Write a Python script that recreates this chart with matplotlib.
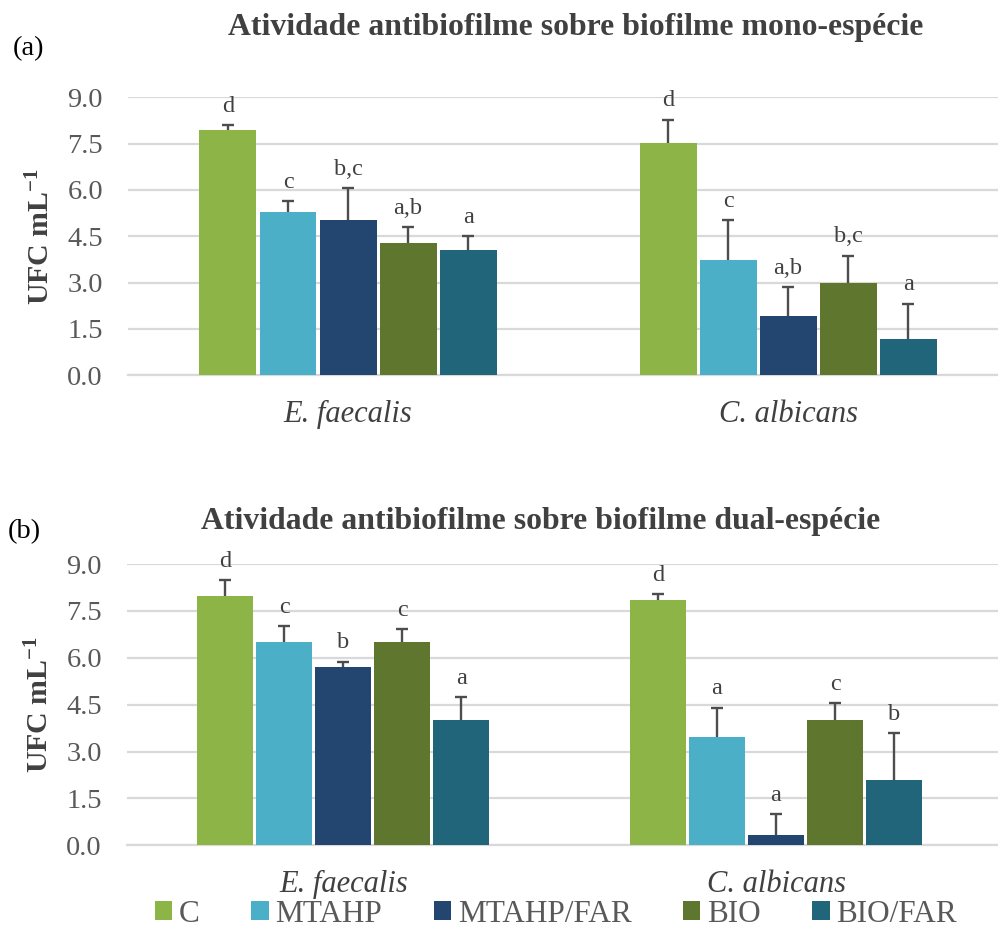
import matplotlib
matplotlib.use("Agg")
import matplotlib.pyplot as plt
import numpy as np
from matplotlib.patches import Patch

plt.rcParams['font.family'] = ['Liberation Serif', 'DejaVu Serif']
plt.rcParams['mathtext.fontset'] = 'custom'
plt.rcParams['mathtext.rm'] = 'Liberation Serif'
plt.rcParams['mathtext.bf'] = 'Liberation Serif:bold'
plt.rcParams['mathtext.it'] = 'Liberation Serif:italic'

categories = ['E. faecalis', 'C. albicans']
series = ['C', 'MTAHP', 'MTAHP/FAR', 'BIO', 'BIO/FAR']
colors = ['#8DB446', '#4BAFC8', '#234670', '#5F762E', '#20657A']

# Panel (a): mono-species biofilm
mono_vals = {
    'C':         [7.94, 7.53],
    'MTAHP':     [5.28, 3.73],
    'MTAHP/FAR': [5.02, 1.93],
    'BIO':       [4.29, 2.99],
    'BIO/FAR':   [4.06, 1.19],
}
mono_err = {
    'C':         [0.16, 0.75],
    'MTAHP':     [0.36, 1.30],
    'MTAHP/FAR': [1.03, 0.92],
    'BIO':       [0.51, 0.88],
    'BIO/FAR':   [0.45, 1.13],
}
mono_letters = {
    'C':         ['d', 'd'],
    'MTAHP':     ['c', 'c'],
    'MTAHP/FAR': ['b,c', 'a,b'],
    'BIO':       ['a,b', 'b,c'],
    'BIO/FAR':   ['a', 'a'],
}

# Panel (b): dual-species biofilm
dual_vals = {
    'C':         [7.97, 7.85],
    'MTAHP':     [6.50, 3.46],
    'MTAHP/FAR': [5.71, 0.32],
    'BIO':       [6.50, 4.02],
    'BIO/FAR':   [4.00, 2.08],
}
dual_err = {
    'C':         [0.51, 0.19],
    'MTAHP':     [0.51, 0.94],
    'MTAHP/FAR': [0.16, 0.67],
    'BIO':       [0.41, 0.53],
    'BIO/FAR':   [0.74, 1.51],
}
dual_letters = {
    'C':         ['d', 'd'],
    'MTAHP':     ['c', 'a'],
    'MTAHP/FAR': ['b', 'a'],
    'BIO':       ['c', 'c'],
    'BIO/FAR':   ['a', 'b'],
}

yticks = [0.0, 1.5, 3.0, 4.5, 6.0, 7.5, 9.0]

W, H = 998, 931
fig = plt.figure(figsize=(W / 100, H / 100), dpi=100)

pitch = 0.1364
bw = 0.1295
cap = 0.014
grid_c = '#D9D9D9'
txt_c = '#404040'
tick_c = '#595959'
err_c = '#4D4D4D'


def draw_panel(ax, vals, errs, letters, xlim):
    x = np.arange(len(categories))
    for i, s in enumerate(series):
        pos = x + (i - 2) * pitch
        v = np.array(vals[s])
        e = np.array(errs[s])
        ax.bar(pos, v, width=bw, color=colors[i], zorder=3)
        ax.vlines(pos, v, v + e, colors=err_c, linewidth=1.7, zorder=4)
        ax.hlines(v + e, pos - cap, pos + cap, colors=err_c, linewidth=1.7, zorder=4)
        for p, vv, ee, l in zip(pos, v, e, letters[s]):
            ax.annotate(l, (p, vv + ee), xytext=(0, 6), textcoords='offset points',
                        ha='center', va='bottom', fontsize=17.5, color=txt_c)
    ax.set_ylim(0, 9.0)
    ax.set_xlim(*xlim)
    ax.set_yticks(yticks)
    ax.set_yticklabels([f'{t:.1f}' for t in yticks])
    ax.yaxis.grid(True, color=grid_c, linewidth=1.6, zorder=0)
    ax.set_axisbelow(True)
    for sp in ['top', 'right', 'left']:
        ax.spines[sp].set_visible(False)
    ax.spines['bottom'].set_color(grid_c)
    ax.spines['bottom'].set_linewidth(1.6)
    ax.tick_params(axis='y', length=0, labelsize=20.5, colors=tick_c, pad=18)
    ax.tick_params(axis='x', length=0, pad=18)
    ax.set_xticks(x)
    ax.set_xticklabels(categories, fontstyle='italic', fontsize=22, color=txt_c)
    ax.set_ylabel(r'UFC mL$^{\mathbf{-1}}$', fontsize=21.5, fontweight='bold', color=txt_c)
    ax.yaxis.set_label_coords((55 - 128) / 870, 0.5)


ax1 = fig.add_axes([128 / W, 1 - 375.3 / H, (W - 128) / W, (375.3 - 97.3) / H])
draw_panel(ax1, mono_vals, mono_err, mono_letters, (-0.5, 1.477))
ax2 = fig.add_axes([127 / W, 1 - 845.3 / H, (W - 127) / W, (845.3 - 564) / H])
draw_panel(ax2, dual_vals, dual_err, dual_letters, (-0.5, 1.513))

fig.text(576 / W, 1 - 27 / H, 'Atividade antibiofilme sobre biofilme mono-espécie',
         ha='center', va='center', fontsize=22.9, fontweight='bold', color=txt_c)
fig.text(541 / W, 1 - 522 / H, 'Atividade antibiofilme sobre biofilme dual-espécie',
         ha='center', va='center', fontsize=22.9, fontweight='bold', color=txt_c)
fig.text(29 / W, 1 - 49 / H, '(a)', ha='center', va='center', fontsize=20.5, color='black')
fig.text(24 / W, 1 - 532 / H, '(b)', ha='center', va='center', fontsize=20.5, color='black')

handles = [Patch(facecolor=c, edgecolor='none') for c in colors]
fig.legend(handles, series, loc='center', bbox_to_anchor=(556 / W, 1 - 914 / H), ncol=5,
           frameon=False, fontsize=22.5, handlelength=0.55, handleheight=0.55,
           handletextpad=0.22, columnspacing=1.65, labelcolor=tick_c,
           borderpad=0, borderaxespad=0)

fig.savefig('out.png', dpi=100)
